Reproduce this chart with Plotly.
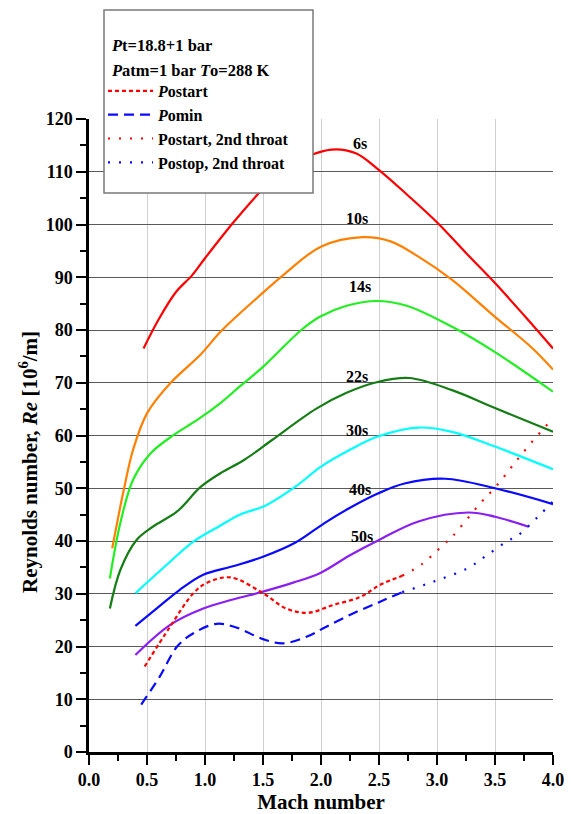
import plotly.graph_objects as go

# ---------------- data ----------------
m6 = [0.47, 0.6, 0.75, 0.89, 1.0, 1.26, 1.52, 1.75, 2.09, 2.3, 2.49, 2.75, 3.01, 3.25, 3.5, 3.75, 4.0]
re6 = [76.5, 82.0, 87.2, 90.4, 93.6, 100.8, 107.2, 111.5, 114.2, 113.5, 110.5, 105.5, 100.2, 94.6, 88.9, 82.8, 76.5]

m10 = [0.2, 0.3, 0.38, 0.5, 0.7, 0.96, 1.14, 1.46, 1.69, 2.0, 2.36, 2.6, 2.84, 3.13, 3.5, 3.82, 4.0]
re10 = [38.6, 49.7, 57.3, 64.2, 69.9, 75.3, 79.8, 86.3, 90.7, 95.8, 97.6, 96.8, 93.9, 89.5, 82.5, 76.6, 72.5]

m14 = [0.18, 0.27, 0.38, 0.53, 0.73, 0.93, 1.13, 1.30, 1.50, 1.83, 1.99, 2.22, 2.48, 2.74, 3.13, 3.5, 4.0]
re14 = [32.9, 43.4, 51.6, 56.6, 60.1, 62.9, 66.1, 69.3, 73.0, 80.0, 82.5, 84.6, 85.5, 84.6, 80.6, 75.8, 68.3]

m22 = [0.18, 0.27, 0.41, 0.55, 0.76, 0.96, 1.13, 1.34, 1.575, 1.96, 2.22, 2.48, 2.76, 3.13, 3.5, 4.0]
re22 = [27.2, 34.5, 40.2, 42.7, 45.6, 50.2, 52.8, 55.4, 59.1, 65.1, 68.1, 70.1, 70.9, 68.6, 65.2, 60.7]

m30 = [0.4, 0.67, 0.9, 1.13, 1.3, 1.52, 1.78, 2.0, 2.25, 2.49, 2.84, 3.13, 3.5, 4.0]
re30 = [30.1, 35.5, 39.9, 42.9, 45.0, 46.7, 50.3, 54.1, 57.3, 59.8, 61.5, 60.7, 57.9, 53.6]

m40 = [0.4, 0.6, 0.78, 0.985, 1.24, 1.5, 1.78, 2.03, 2.25, 2.49, 2.72, 3.07, 3.5, 4.0]
re40 = [23.9, 27.5, 30.7, 33.6, 35.2, 37.0, 39.7, 43.4, 46.3, 49.0, 50.9, 51.8, 50.0, 47.0]

m50 = [0.4, 0.7, 0.985, 1.24, 1.5, 1.76, 1.99, 2.25, 2.5, 2.84, 3.27, 3.5, 3.79]
re50 = [18.4, 24.1, 27.2, 28.9, 30.4, 32.1, 33.9, 37.3, 40.2, 43.7, 45.4, 44.6, 42.7]

m_postart = [0.48, 0.7, 0.9, 1.01, 1.22, 1.5, 1.7, 1.89, 2.11, 2.34, 2.51, 2.7]
re_postart = [16.2, 23.8, 30.1, 32.0, 33.1, 30.1, 27.2, 26.4, 27.9, 29.4, 31.7, 33.4]

m_pomin = [0.45, 0.61, 0.76, 0.9, 1.1, 1.27, 1.5, 1.675, 1.88, 2.05, 2.28, 2.51, 2.7]
re_pomin = [9.0, 14.3, 20.0, 22.5, 24.3, 23.6, 21.4, 20.6, 21.9, 23.8, 26.3, 28.5, 30.3]

m_postart2 = [2.7, 2.87, 3.05, 3.13, 3.36, 3.53, 3.67, 3.82, 4.0]
re_postart2 = [33.4, 35.6, 39.2, 40.8, 46.8, 50.9, 54.8, 58.8, 63.3]

m_postop2 = [2.7, 2.97, 3.26, 3.43, 3.6, 3.7, 3.87, 4.0]
re_postop2 = [30.3, 32.3, 34.8, 37.3, 39.9, 41.1, 44.6, 47.5]

time_labels = ["6s", "10s", "14s", "22s", "30s", "40s", "50s"]
label_m = [2.34, 2.31, 2.34, 2.31, 2.31, 2.34, 2.35]
label_re = [115.4, 101.2, 88.2, 71.2, 60.9, 49.8, 40.9]

header_lines = ["<i>P</i>t=18.8+1 bar", "<i>P</i>atm=1 bar <i>T</i>o=288 K"]

x_ticks = [0.0, 0.5, 1.0, 1.5, 2.0, 2.5, 3.0, 3.5, 4.0]
y_ticks = list(range(0, 121, 10))

FONT = "Liberation Serif"
L, R, T, B = 89, 18, 119, 62
W, H = 571, 814
PW, PH = W - L - R, H - T - B


def px_x(p):
    return (p - L) / PW


def px_y(p):
    return (H - B - p) / PH


fig = go.Figure()

solid = [
    (m6, re6, "#ff0000"),
    (m10, re10, "#ff8000"),
    (m14, re14, "#22ee22"),
    (m22, re22, "#167d16"),
    (m30, re30, "#00ffff"),
    (m40, re40, "#0a0aff"),
    (m50, re50, "#8a1ff0"),
]
for mx, ry, col in solid:
    fig.add_trace(go.Scatter(x=mx, y=ry, mode="lines", showlegend=False,
                             line=dict(color=col, width=2.2, shape="spline", smoothing=1.0)))

fig.add_trace(go.Scatter(x=m_postart, y=re_postart, mode="lines", name="<i>P</i>ostart",
                         line=dict(color="#ff0000", width=2.2, dash="4px,3px", shape="spline")))
fig.add_trace(go.Scatter(x=m_pomin, y=re_pomin, mode="lines", name="<i>P</i>omin",
                         line=dict(color="#0a0aff", width=2.2, dash="10px,6px", shape="spline")))
fig.add_trace(go.Scatter(x=m_postart2, y=re_postart2, mode="lines", name="Postart, 2nd throat",
                         line=dict(color="#ff0000", width=2.2, dash="2px,9px", shape="spline")))
fig.add_trace(go.Scatter(x=m_postop2, y=re_postop2, mode="lines", name="Postop, 2nd throat",
                         line=dict(color="#0a0aff", width=2.2, dash="2px,9px", shape="spline")))

for t, mx, ry in zip(time_labels, label_m, label_re):
    fig.add_annotation(x=mx, y=ry, text=t, showarrow=False,
                       font=dict(family=FONT, size=16, color="black", weight="bold"))

# legend box
fig.add_shape(type="rect", xref="paper", yref="paper",
              x0=px_x(104), x1=px_x(313), y0=px_y(193), y1=px_y(10),
              line=dict(color="#7a7a7a", width=1.5), fillcolor="white", layer="above")

# legend header lines
for txt, yc in zip(header_lines, [45, 70]):
    fig.add_annotation(xref="paper", yref="paper", x=px_x(109), y=px_y(yc),
                       xanchor="left", yanchor="middle", text=txt, showarrow=False,
                       font=dict(family=FONT, size=16.5, color="black", weight="bold"))

# y-axis title
fig.add_annotation(xref="paper", yref="paper", x=px_x(28), y=px_y(462),
                   xanchor="center", yanchor="middle", textangle=-90,
                   text="Reynolds number, <i>Re</i> [10<sup>6</sup>/m]", showarrow=False,
                   font=dict(family=FONT, size=21, color="black", weight="bold"))

fig.update_layout(
    width=W, height=H,
    margin=dict(l=L, r=R, t=T, b=B),
    paper_bgcolor="white", plot_bgcolor="white",
    font=dict(family=FONT, size=16, color="black", weight="bold"),
    legend=dict(
        x=px_x(103), y=px_y(74), xanchor="left", yanchor="top",
        bgcolor="rgba(0,0,0,0)", borderwidth=0, itemwidth=45,
        font=dict(family=FONT, size=16, color="black", weight="bold"),
        tracegroupgap=0,
    ),
    xaxis=dict(
        range=[0, 4.0], tickvals=x_ticks, ticktext=[f"{v:.1f}" for v in x_ticks],
        automargin=False,
        showline=True, linecolor="black", linewidth=2.5,
        ticks="outside", ticklen=10, tickwidth=2, tickcolor="black",
        minor=dict(dtick=0.25, ticklen=6, tickwidth=2, tickcolor="black", showgrid=False, ticks="outside"),
        showgrid=True, gridcolor="#cfcfcf", gridwidth=1, zeroline=False,
        tickfont=dict(family=FONT, size=18, color="black", weight="bold"),
        title=dict(text="Mach number", font=dict(family=FONT, size=21, color="black", weight="bold")),
    ),
    yaxis=dict(
        range=[0, 120], tickvals=y_ticks,
        automargin=False,
        showline=True, linecolor="black", linewidth=2.5,
        ticks="outside", ticklen=10, tickwidth=2, tickcolor="black",
        minor=dict(dtick=5, ticklen=6, tickwidth=2, tickcolor="black", showgrid=False, ticks="outside"),
        showgrid=True, gridcolor="#5a5a5a", gridwidth=1, zeroline=False,
        tickfont=dict(family=FONT, size=18, color="black", weight="bold"),
    ),
)

fig.write_html("out.html")
